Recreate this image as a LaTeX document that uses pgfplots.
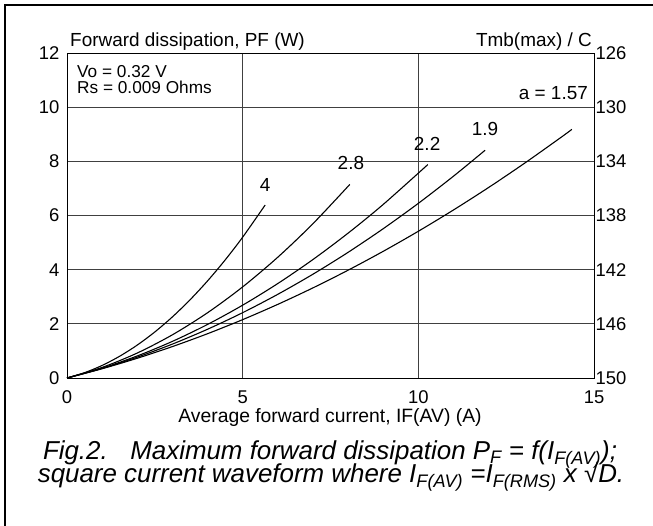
\documentclass[border=0pt]{standalone}
\usepackage{pgfplots}
\pgfplotsset{compat=1.18}
\usepackage{fontspec}
\setmainfont{Liberation Sans}

\begin{document}
\begin{tikzpicture}[x=1bp,y=1bp]
\useasboundingbox (-67,-148) rectangle (586,378);
% outer frame (left and top edges only)
\draw[line width=2bp] (-62,-150) -- (-62,372.5) -- (590,372.5);

\pgfplotsset{
  common/.style={
    width=527bp, height=325bp, scale only axis,
    at={(0,0)}, anchor=south west,
    xmin=0, xmax=15, ymin=0, ymax=12,
    xtick={0,5,10,15}, ytick={0,2,4,6,8,10,12},
    major tick length=0pt,
    /pgf/number format/assume math mode=true,
    ticklabel style={font=\fontsize{18.5}{18}\selectfont},
  }
}

\begin{axis}[common,
  axis line style={line width=0.9bp},
  grid=major,
  grid style={line width=0.9bp, black!75},
  xticklabel style={yshift=-9bp},
  yticklabel style={xshift=-4bp},
  clip=false,
]
\addplot[black, line width=1.1bp, smooth] coordinates {
 (0,0) (0.5,0.196) (1,0.464) (1.5,0.804) (2,1.216) (2.5,1.7) (3,2.256)
 (3.5,2.884) (4,3.584) (4.5,4.356) (5,5.2) (5.64,6.386)};
\addplot[black, line width=1.1bp, smooth] coordinates {
 (0,0) (1,0.391) (2,0.922) (3,1.595) (4,2.409) (5,3.364) (6,4.460)
 (7,5.697) (8.05,7.148)};
\addplot[black, line width=1.1bp, smooth] coordinates {
 (0,0) (1,0.364) (2,0.814) (3,1.352) (4,1.977) (5,2.689) (6,3.488)
 (7,4.374) (8,5.348) (9,6.408) (10.27,7.880)};
\addplot[black, line width=1.1bp, smooth] coordinates {
 (0,0) (1,0.352) (2,0.770) (3,1.252) (4,1.800) (5,2.412) (6,3.090)
 (7,3.832) (8,4.639) (9,5.512) (10,6.449) (11,7.451) (11.9,8.409)};
\addplot[black, line width=1.1bp, smooth] coordinates {
 (0,0) (1,0.342) (2,0.729) (3,1.160) (4,1.635) (5,2.155) (6,2.719)
 (7,3.327) (8,3.980) (9,4.677) (10,5.418) (11,6.204) (12,7.034)
 (13,7.909) (14,8.828) (14.37,9.179)};

\begin{scope}[font=\fontsize{19}{19}\selectfont]
\node at (axis cs:5.64,7.13) {4};
\node at (axis cs:8.08,7.94) {2.8};
\node at (axis cs:10.25,8.64) {2.2};
\node at (axis cs:11.9,9.19) {1.9};
\node[anchor=east, inner sep=0pt] at (axis cs:14.83,10.52) {a = 1.57};
\end{scope}
\end{axis}

\begin{axis}[common,
  axis x line=none,
  axis y line*=right,
  axis line style={draw=none},
  yticklabels={150,146,142,138,134,130,126},
  yticklabel style={anchor=west, xshift=-2bp},
]
\end{axis}

% titles and notes
\node[anchor=base west, inner sep=0pt, font=\fontsize{19}{19}\selectfont] at (3,331) {Forward dissipation, PF (W)};
\node[anchor=base east, inner sep=0pt, font=\fontsize{19}{19}\selectfont] at (525,331) {Tmb(max) / C};
\node[anchor=base west, inner sep=0pt, font=\fontsize{17.3}{16}\selectfont] at (10,300) {Vo = 0.32 V};
\node[anchor=base west, inner sep=0pt, font=\fontsize{17.3}{16}\selectfont] at (10,284) {Rs = 0.009 Ohms};
\node[anchor=base, inner sep=0pt, font=\fontsize{19.4}{19}\selectfont] at (263,-45) {Average forward current, IF(AV) (A)};
\node[anchor=base, inner sep=0pt, font=\fontsize{26}{22}\selectfont\itshape] at (263,-82)
  {Fig.2.\hspace{0.5em} Maximum forward dissipation P\textsubscript{F} = f(I\textsubscript{F(AV)});};
\node[anchor=base, inner sep=0pt, font=\fontsize{26}{22}\selectfont\itshape] at (264,-105)
  {square current waveform where I\textsubscript{F(AV)} =I\textsubscript{F(RMS)} x √D.};
\end{tikzpicture}
\end{document}
